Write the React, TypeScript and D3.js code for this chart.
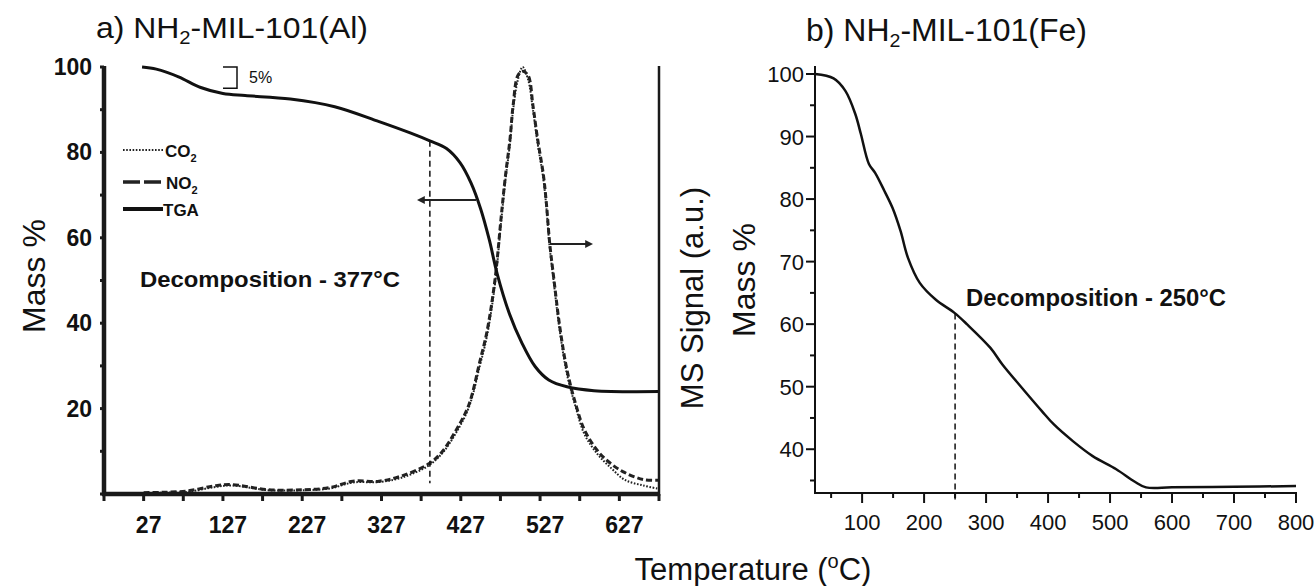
import React from "react";
import * as d3 from "d3";

// ---- Panel a: NH2-MIL-101(Al) ----
const alTgaTemp = [25, 43, 71, 99, 127, 155, 212, 268, 324, 364, 388, 409, 426, 440, 452, 463, 473, 488, 504, 521, 538, 561, 595, 678];
const alTgaMass = [100, 99.5, 97.7, 95.2, 93.8, 93.3, 92.5, 90.7, 87.2, 84.5, 82.7, 80.9, 77.6, 72.8, 66.8, 59.5, 51.5, 42.4, 35.4, 29.8, 26.7, 25.1, 24.2, 24.0];

const msTemp = [27, 50, 82, 116, 138, 184, 229, 262, 291, 324, 352, 386, 403, 420, 437, 451, 460, 470, 478, 483, 489, 493, 499, 505, 512, 518, 524, 531, 535, 539, 544, 552, 561, 572, 583, 600, 617, 634, 657, 677];
const co2Signal = [0.2, 0.3, 0.5, 1.6, 2.0, 0.9, 0.9, 1.3, 2.7, 2.8, 3.8, 6.6, 9.4, 14.0, 20.2, 30, 37, 49, 64, 73, 82, 90, 97, 100, 97, 90, 82, 74, 67, 58, 50, 38, 28, 20.3, 14, 9.2, 6, 3.3, 2.0, 1.2];
const no2Signal = [0.3, 0.4, 0.7, 1.9, 2.2, 1.0, 1.0, 1.5, 3.0, 3.0, 4.2, 7.0, 9.8, 14.6, 20.8, 31, 38, 50, 65, 74, 83, 91, 98, 99, 98, 91, 83, 75, 68, 59, 51, 39, 29, 21, 15, 10, 7, 5, 3.4, 3.2];

const alXTickLabels = [27, 127, 227, 327, 427, 527, 627];
const alYTickLabels = [20, 40, 60, 80, 100];
const alDecomp = 388;
const alDecompLabel = "Decomposition - 377°C";

// ---- Panel b: NH2-MIL-101(Fe) ----
const feTemp = [24, 54, 73, 89, 98, 111, 121, 136, 149, 162, 174, 193, 219, 249, 269, 307, 326, 358, 390, 409, 440, 472, 510, 540, 558, 600, 700, 800];
const feMass = [100, 99.3, 97.3, 93.6, 90.4, 85.6, 84.2, 81.3, 78.6, 74.9, 70.6, 66.6, 63.9, 61.8, 60, 56.2, 53.6, 49.8, 46.1, 44, 41.3, 38.9, 36.8, 34.8, 33.9, 33.9, 34.0, 34.1];
const feXTickLabels = [100, 200, 300, 400, 500, 600, 700, 800];
const feYTickLabels = [40, 50, 60, 70, 80, 90, 100];
const feDecomp = 250;
const feDecompLabel = "Decomposition - 250°C";

const FONT = "'Liberation Sans', Arial, Helvetica, sans-serif";

export default function App() {
  const xA = d3.scaleLinear().domain([-23, 677]).range([104, 659]);
  const yA = d3.scaleLinear().domain([0, 100]).range([494, 67]);
  const xB = d3.scaleLinear().domain([24, 800]).range([815, 1296]);
  const yB = d3.scaleLinear().domain([33, 100]).range([493, 74]);

  const lineA = d3.line<[number, number]>().x(d => xA(d[0])).y(d => yA(d[1])).curve(d3.curveCatmullRom.alpha(0.5));
  const lineB = d3.line<[number, number]>().x(d => xB(d[0])).y(d => yB(d[1])).curve(d3.curveCatmullRom.alpha(0.5));

  const tgaA = lineA(alTgaTemp.map((t, i) => [t, alTgaMass[i]]))!;
  const co2 = lineA(msTemp.map((t, i) => [t, co2Signal[i]]))!;
  const no2 = lineA(msTemp.map((t, i) => [t, no2Signal[i]]))!;
  const tgaB = lineB(feTemp.map((t, i) => [t, feMass[i]]))!;

  const alXTicks = d3.range(-23, 678, 50);
  const alYTicks = d3.range(0, 101, 10);
  const feXTicks = d3.range(50, 801, 50);
  const feYTicks = d3.range(35, 101, 5);

  const interp = (xs: number[], ys: number[], x: number) => d3.scaleLinear().domain(xs).range(ys)(x);
  const alDecompMass = interp(alTgaTemp, alTgaMass, alDecomp);
  const feDecompMass = interp(feTemp, feMass, feDecomp);

  return (
    <svg width={1316} height={586} style={{ position: "absolute", left: 0, top: 0, background: "#fff" }} fontFamily={FONT}>
      <defs>
        <marker id="arrL" viewBox="0 0 10 10" refX="1" refY="5" markerWidth="4" markerHeight="4" orient="auto-start-reverse">
          <path d="M0,0 L10,5 L0,10 z" fill="#222" />
        </marker>
      </defs>

      {/* ---------------- Panel a ---------------- */}
      <text x={96} y={38} fontSize={30} fill="#111" textLength={272} lengthAdjust="spacingAndGlyphs">
        a) NH<tspan fontSize={19} dy={6}>2</tspan><tspan dy={-6}>-MIL-101(Al)</tspan>
      </text>

      {/* MS curves */}
      <path d={co2} fill="none" stroke="#222" strokeWidth={2} strokeDasharray="1.6,1.6" />
      <path d={no2} fill="none" stroke="#222" strokeWidth={3} strokeDasharray="6,3" />
      {/* TGA */}
      <path d={tgaA} fill="none" stroke="#111" strokeWidth={3} />

      <line x1={xA(alDecomp)} x2={xA(alDecomp)} y1={yA(alDecompMass)} y2={yA(2.5)} stroke="#111" strokeWidth={1.5} strokeDasharray="6,4" />

      {/* axes */}
      <line x1={104} x2={104} y1={66} y2={496} stroke="#1a1a1a" strokeWidth={4.5} />
      <line x1={102} x2={660} y1={494} y2={494} stroke="#1a1a1a" strokeWidth={4.5} />
      <line x1={659} x2={659} y1={66} y2={496} stroke="#1a1a1a" strokeWidth={2.5} />
      {alXTicks.map(t => (
        <line key={"axt" + t} x1={xA(t)} x2={xA(t)} y1={494} y2={501} stroke="#1a1a1a" strokeWidth={3} />
      ))}
      {alYTicks.map(v => (
        <line key={"ayt" + v} x1={100} x2={104} y1={yA(v)} y2={yA(v)} stroke="#1a1a1a" strokeWidth={3} />
      ))}
      {alXTickLabels.map(t => (
        <text key={"axl" + t} x={xA(t) + 5} y={533} fontSize={23} fontWeight="bold" textAnchor="middle" fill="#111">{t}</text>
      ))}
      {alYTickLabels.map(v => (
        <text key={"ayl" + v} x={92} y={yA(v) + 8} fontSize={23} fontWeight="bold" textAnchor="end" fill="#111">{v}</text>
      ))}

      {/* 5% bracket */}
      <path d={`M223,${yA(100)} H237 V${yA(95)} H223`} fill="none" stroke="#111" strokeWidth={1.5} />
      <text x={249} y={83} fontSize={16} fill="#111">5%</text>

      {/* legend */}
      <line x1={123} x2={163} y1={150} y2={150} stroke="#222" strokeWidth={2} strokeDasharray="1.6,1.6" />
      <text x={165} y={157} fontSize={17} fontWeight="bold" fill="#111">CO<tspan fontSize={11} dy={5}>2</tspan></text>
      <line x1={123} x2={163} y1={182} y2={182} stroke="#222" strokeWidth={3.5} strokeDasharray="17,4" />
      <text x={166} y={189} fontSize={17} fontWeight="bold" fill="#111">NO<tspan fontSize={11} dy={5}>2</tspan></text>
      <line x1={123} x2={163} y1={209} y2={209} stroke="#111" strokeWidth={4} />
      <text x={163} y={216} fontSize={17} fontWeight="bold" fill="#111">TGA</text>

      {/* arrows */}
      <line x1={476} x2={424} y1={200} y2={200} stroke="#222" strokeWidth={2} markerEnd="url(#arrL)" />
      <line x1={550} x2={586} y1={244} y2={244} stroke="#222" strokeWidth={2} markerEnd="url(#arrL)" />

      <text x={140} y={287} fontSize={22} fontWeight="bold" fill="#111" textLength={260} lengthAdjust="spacingAndGlyphs">{alDecompLabel}</text>

      {/* axis titles */}
      <text transform="translate(45,276) rotate(-90)" fontSize={32} textAnchor="middle" fill="#111">Mass %</text>
      <text transform="translate(703,298) rotate(-90)" fontSize={31} textAnchor="middle" fill="#111">MS Signal (a.u.)</text>

      {/* ---------------- Panel b ---------------- */}
      <text x={806} y={41} fontSize={31} fill="#111" textLength={281} lengthAdjust="spacingAndGlyphs">
        b) NH<tspan fontSize={19} dy={6}>2</tspan><tspan dy={-6}>-MIL-101(Fe)</tspan>
      </text>

      <path d={tgaB} fill="none" stroke="#111" strokeWidth={2.5} />
      <line x1={xB(feDecomp)} x2={xB(feDecomp)} y1={yB(feDecompMass)} y2={500} stroke="#111" strokeWidth={1.5} strokeDasharray="6,4" />

      <line x1={815} x2={815} y1={66} y2={494} stroke="#111" strokeWidth={2} />
      <line x1={814} x2={1297} y1={493} y2={493} stroke="#111" strokeWidth={2} />
      {feXTicks.map(t => (
        <line key={"bxt" + t} x1={xB(t)} x2={xB(t)} y1={493} y2={t % 100 === 0 ? 503 : 498} stroke="#111" strokeWidth={2} />
      ))}
      {feYTicks.map(v => (
        <line key={"byt" + v} x1={v % 10 === 0 ? 806 : 810} x2={815} y1={yB(v)} y2={yB(v)} stroke="#111" strokeWidth={2} />
      ))}
      {feXTickLabels.map(t => (
        <text key={"bxl" + t} x={xB(t)} y={530} fontSize={22} textAnchor="middle" fill="#111">{t}</text>
      ))}
      {feYTickLabels.map(v => (
        <text key={"byl" + v} x={804} y={yB(v) + 8} fontSize={22} textAnchor="end" fill="#111">{v}</text>
      ))}

      <text x={966} y={306} fontSize={23} fontWeight="bold" fill="#111" textLength={260} lengthAdjust="spacingAndGlyphs">{feDecompLabel}</text>
      <text transform="translate(755,280) rotate(-90)" fontSize={32} textAnchor="middle" fill="#111">Mass %</text>

      {/* shared x title */}
      <text x={753} y={580} fontSize={31} textAnchor="middle" fill="#111">
        Temperature (<tspan fontSize={20} dy={-12}>o</tspan><tspan dy={12}>C)</tspan>
      </text>
    </svg>
  );
}
